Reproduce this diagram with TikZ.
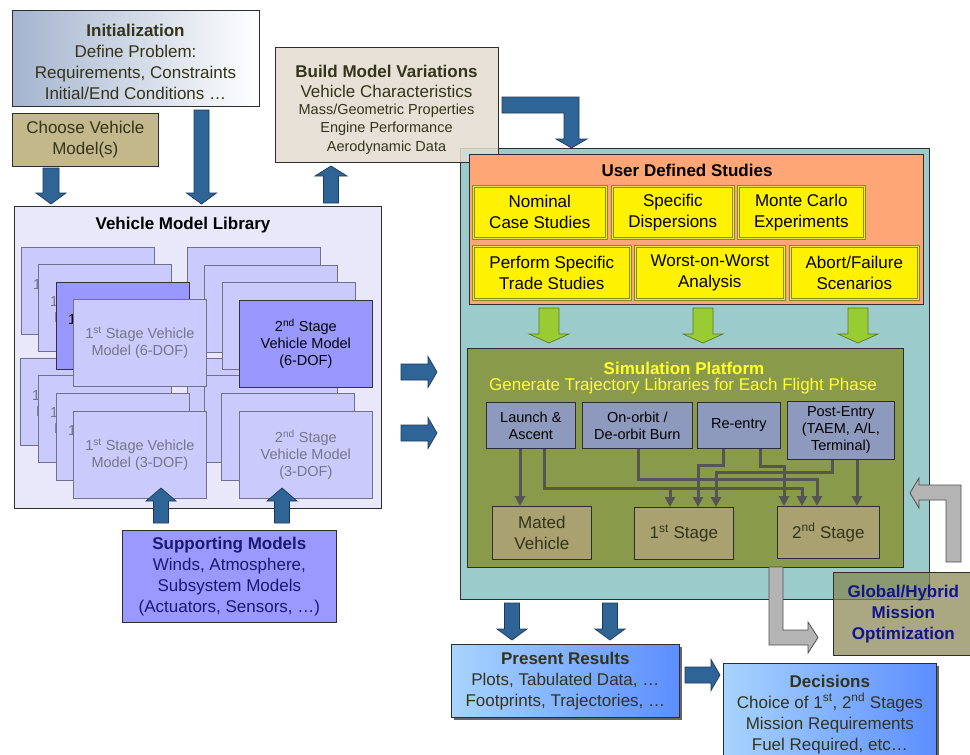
\documentclass[tikz,border=0pt]{standalone}
\usepackage{fontspec}
\setmainfont{Liberation Sans}
\usetikzlibrary{arrows.meta,shadows}
\definecolor{bluearr}{HTML}{2F6497}
\definecolor{bluearrline}{HTML}{1C3A5C}
\definecolor{greenarr}{HTML}{99CC33}
\definecolor{greenarrline}{HTML}{5E7A1E}
\definecolor{greyarr}{HTML}{B4B4B4}
\definecolor{greyarrline}{HTML}{505050}
\definecolor{teal1}{HTML}{9CCBCB}
\definecolor{orange1}{HTML}{FFA676}
\definecolor{simgreen}{HTML}{8A9A4B}
\definecolor{bluegrey}{HTML}{8E99BE}
\definecolor{tanbox}{HTML}{A9A16F}
\definecolor{libfill}{HTML}{E8E8FA}
\definecolor{stacklight}{HTML}{CACAFC}
\definecolor{stackdark}{HTML}{9898FE}
\definecolor{stackline}{HTML}{70708C}
\definecolor{supfill}{HTML}{9999FF}
\definecolor{choosefill}{HTML}{C3B78C}
\definecolor{buildfill}{HTML}{E2DBCF}
\definecolor{globfill}{HTML}{85844F}
\definecolor{olivetext}{HTML}{34341A}
\definecolor{navytext}{HTML}{1A1A6E}
\definecolor{globtext}{HTML}{14148C}
\definecolor{stacktext}{HTML}{76768A}
\definecolor{simtext}{HTML}{FFFF33}
\definecolor{connc}{HTML}{555555}
\definecolor{boxline}{HTML}{2E2E2E}
\definecolor{yellowline}{HTML}{8C8C1E}
\definecolor{yellowbevel}{HTML}{E6E650}
\definecolor{initblue}{HTML}{A4B4CF}
\definecolor{resL}{HTML}{A8D4FF}
\definecolor{resR}{HTML}{5C8EFF}

\newcommand{\fsA}{\fontsize{17}{21}\selectfont}
\newcommand{\fsB}{\fontsize{14.5}{17}\selectfont}
\newcommand{\fsC}{\fontsize{14.5}{18.5}\selectfont}

% vertical block arrow: style, x, ytail, yhead, ytip, shaft half, head half
\newcommand{\BArrV}[7]{%
  \filldraw[#1] ({#2-#6},#3) -- ({#2-#6},#4) -- ({#2-#7},#4) -- (#2,#5) -- ({#2+#7},#4) -- ({#2+#6},#4) -- ({#2+#6},#3) -- cycle;}
% horizontal block arrow: style, y, xtail, xhead, xtip, shaft half, head half
\newcommand{\BArrH}[7]{%
  \filldraw[#1] (#3,{#2-#6}) -- (#4,{#2-#6}) -- (#4,{#2-#7}) -- (#5,#2) -- (#4,{#2+#7}) -- (#4,{#2+#6}) -- (#3,{#2+#6}) -- cycle;}
% back box of a stack with the visible fragments of its text: style, name, left, top, colour
\newcommand{\BackBox}[5]{%
  \node[#1] (#2) at (#3,#4) {};
  \node[font=\fsB, text=#5, anchor=base west, inner sep=0pt] (#2a) at ({#3+12},{#4+42}) {1};
  \node[font=\fsB, text=#5, anchor=base west, inner sep=0pt] (#2b) at ({#3+16},{#4+58}) {M};}

\begin{document}
\begin{tikzpicture}[x=1pt,y=-1pt,
  bx/.style={draw=boxline, line width=0.7pt, inner sep=1pt, align=center, anchor=north west},
  sz/.style 2 args={minimum width=#1pt, minimum height=#2pt},
  barrow/.style={fill=bluearr, draw=bluearrline, line width=0.7pt, line join=miter},
  garrow/.style={fill=greenarr, draw=greenarrline, line width=0.7pt, line join=miter},
  grarrow/.style={fill=greyarr, draw=greyarrline, line width=0.8pt, line join=miter},
  ybox/.style={bx, fill=yellow, draw=yellowline, double=yellowbevel, double distance=1.4pt, line width=0.6pt, font=\fsA},
  stk/.style={bx, fill=stacklight, draw=stackline, text=stacktext, font=\fsB, sz={133}{87}},
  stkd/.style={stk, fill=stackdark, draw=black!80, text=black},
  bgbox/.style={bx, fill=bluegrey, font=\fsB},
  tbox/.style={bx, fill=tanbox, text=olivetext, font=\fsA},
  conn/.style={draw=connc, line width=3pt, line join=miter, -{Triangle[width=10pt,length=10pt]}}
]
\useasboundingbox (0,0) rectangle (970,755);
\fill[white] (0,0) rectangle (970,755);

% ---------- Initialization / choose / build ----------
\node[bx, sz={247}{96}, left color=initblue, right color=white] (init) at (12,10) {};
\node[font=\fsA, text=olivetext, align=center] (initT) at (135.5,62)
  {\textbf{Initialization}\\Define Problem:\\Requirements, Constraints\\Initial/End Conditions …};
\node[bx, sz={146}{53}, fill=choosefill, text=olivetext, font=\fsA] (choose) at (12,113) {Choose Vehicle\\Model(s)};

% ---------- right big teal panel ----------
\node[bx, sz={469}{451}, fill=teal1] (teal) at (460,148) {};

\node[bx, sz={223}{115}, fill=buildfill, fill opacity=0.85] (build) at (275,47) {};
\node[font=\fsA, text=olivetext, align=center] (buildT) at (386.5,110)
  {\textbf{Build Model Variations}\\[-1pt]Vehicle Characteristics\\[-4pt]{\fsC Mass/Geometric Properties}\\[-3pt]{\fsC Engine Performance}\\[-2pt]{\fsC Aerodynamic Data}};

% elbow arrow build -> studies
\filldraw[barrow] (502,97) -- (579,97) -- (579,139) -- (587,139) -- (571.5,148) -- (556,139) -- (564,139) -- (564,113) -- (502,113) -- cycle;

% ---------- Vehicle model library ----------
\node[bx, sz={367}{302}, fill=libfill] (lib) at (14,206) {};
\node[font=\fsA\bfseries] (libT) at (183,225) {Vehicle Model Library};

% stack D (2nd stage 3-DOF)
\node[stk] (sd1) at (187,358) {};
\node[stk] (sd2) at (204,375) {};
\node[stk] (sd3) at (221,393) {};
\node[stk] (sd4) at (239,411) {2\textsuperscript{nd} Stage\\Vehicle Model\\(3-DOF)};
% stack B (2nd stage 6-DOF)
\node[stk] (sb1) at (187,247) {};
\node[stk] (sb2) at (204,265) {};
\node[stk] (sb3) at (222,282) {};
\node[stkd] (sb4) at (239,300) {2\textsuperscript{nd} Stage\\Vehicle Model\\(6-DOF)};
% stack C (1st stage 3-DOF)
\BackBox{stk}{sc1}{20}{358}{stacktext}
\BackBox{stk}{sc2}{38}{375}{stacktext}
\BackBox{stk}{sc3}{56}{393}{stacktext}
\node[stk] (sc4) at (73,411) {1\textsuperscript{st}  Stage Vehicle\\Model (3-DOF)};
% stack A (1st stage 6-DOF)
\BackBox{stk}{sa1}{21}{247}{stacktext}
\BackBox{stk}{sa2}{38}{264}{stacktext}
\BackBox{stkd}{sa3}{56}{282}{black}
\node[stk] (sa4) at (73,299) {1\textsuperscript{st} Stage Vehicle\\Model (6-DOF)};

% arrows into library
\BArrV{barrow}{51}{168}{193}{204}{8}{15}
\BArrV{barrow}{201.5}{110}{193}{204}{7.5}{15}
\BArrV{barrow}{331}{203}{176}{166}{7.5}{16}

% supporting models
\node[bx, sz={214}{92}, fill=supfill, text=navytext, font=\fsA] (sup) at (122,530)
  {\textbf{Supporting Models}\\Winds, Atmosphere,\\Subsystem Models\\(Actuators, Sensors, …)};
\BArrV{barrow}{161}{523}{501}{488}{7.5}{15}
\BArrV{barrow}{282}{523}{501}{488}{7.5}{15}

% right arrows towards simulation
\BArrH{barrow}{372}{401}{428}{437}{8}{15.5}
\BArrH{barrow}{433}{401}{428}{437}{8}{15.5}

% ---------- User defined studies ----------
\node[bx, sz={454}{150}, fill=orange1] (uds) at (469,154) {};
\node[font=\fsA\bfseries] (udsT) at (687,170) {User Defined Studies};
\node[ybox, sz={133}{52}] (nom) at (473,186) {Nominal\\Case Studies};
\node[ybox, sz={121}{52}] (spec) at (612,186) {Specific\\Dispersions};
\node[ybox, sz={126}{52}] (monte) at (738,186) {Monte Carlo\\Experiments};
\node[ybox, sz={157}{53}] (perf) at (473,246) {Perform Specific\\Trade Studies};
\node[ybox, sz={149}{53}] (worst) at (635,246) {Worst-on-Worst\\Analysis};
\node[ybox, sz={128}{53}] (abort) at (790,246) {Abort/Failure\\Scenarios};

\BArrV{garrow}{549}{308}{334}{343}{10}{20}
\BArrV{garrow}{703}{308}{334}{343}{10}{20}
\BArrV{garrow}{858}{308}{334}{343}{10}{20}

% ---------- Simulation platform ----------
\node[bx, sz={436}{219}, fill=simgreen] (sim) at (467,348) {};
\node[font=\fsA\bfseries, text=simtext] (simT) at (684,368) {Simulation Platform};
\node[font=\fsA, text=simtext] (simS) at (683,386) {Generate Trajectory Libraries for Each Flight Phase};

\node[bgbox, sz={89}{46}] (la) at (486,402) {Launch \&\\Ascent};
\node[bgbox, sz={110}{46}] (orb) at (582,402) {On-orbit /\\De-orbit Burn};
\node[bgbox, sz={83}{46}] (re) at (697,402) {Re-entry};
\node[bgbox, sz={107}{58}] (post) at (787,401) {Post-Entry\\(TAEM, A/L,\\Terminal)};

\node[tbox, sz={99}{53}] (mated) at (492,506) {Mated\\Vehicle};
\node[tbox, sz={99}{52}] (st1) at (634,507) {1\textsuperscript{st} Stage};
\node[tbox, sz={102}{52}] (st2) at (777,506) {2\textsuperscript{nd} Stage};

\draw[conn] ([xshift=34pt]la.south west) -- ([xshift=28pt]mated.north west);
\draw[conn] ([xshift=58pt]la.south west) -- ++(0,40) -| ([xshift=25pt]st2.north west);
\draw[conn] ([xshift=58pt]la.south west) -- ++(0,40) -| ([xshift=36pt]st1.north west);
\draw[conn] ([xshift=56pt]orb.south west) -- ++(0,31) -| ([xshift=40pt]st2.north west);
\draw[conn] ([xshift=26pt]re.south west) -- ++(0,17) -| ([xshift=64pt]st1.north west);
\draw[conn] ([xshift=63pt]re.south west) -- ++(0,18) -| ([xshift=7pt]st2.north west);
\draw[conn] ([xshift=45pt]post.south west) -- ++(0,13) -| ([xshift=82pt]st1.north west);
\draw[conn] ([xshift=70pt]post.south west) -- ([xshift=80pt]st2.north west);

% ---------- optimisation loop ----------
\node[bx, sz={140}{83}, fill=globfill, fill opacity=0.7, text opacity=1, text=globtext, font=\fsA\bfseries] (glob) at (833,572)
  {Global/Hybrid\\Mission\\Optimization};
\filldraw[grarrow] (769,567) -- (783,567) -- (783,630) -- (808,630) -- (808,622) -- (818,637.5) -- (808,653) -- (808,645) -- (769,645) -- cycle;
\filldraw[grarrow] (946,562) -- (961,562) -- (961,485) -- (919,485) -- (919,478) -- (910,493) -- (919,508) -- (919,500) -- (946,500) -- cycle;

% ---------- results / decisions ----------
\BArrV{barrow}{512}{603}{629}{640}{7.5}{15}
\BArrV{barrow}{610}{603}{629}{640}{7.5}{15}
\node[bx, sz={228}{73}, left color=resL, right color=resR, drop shadow={shadow xshift=3pt, shadow yshift=-3pt, fill=black!60, opacity=1}, text=olivetext, font=\fsA] (res) at (451,644)
  {\textbf{Present Results}\\Plots, Tabulated Data, …\\Footprints, Trajectories, …};
\BArrH{barrow}{675}{685}{711}{720}{8}{15.5}
\node[bx, sz={213}{102}, left color=resL, right color=resR, drop shadow={shadow xshift=3pt, shadow yshift=-3pt, fill=black!60, opacity=1}, text=olivetext, font=\fsA] (dec) at (723,663)
  {\textbf{Decisions}\\Choice of 1\textsuperscript{st}, 2\textsuperscript{nd} Stages\\Mission Requirements\\Fuel Required, etc…};

\end{tikzpicture}
\end{document}
